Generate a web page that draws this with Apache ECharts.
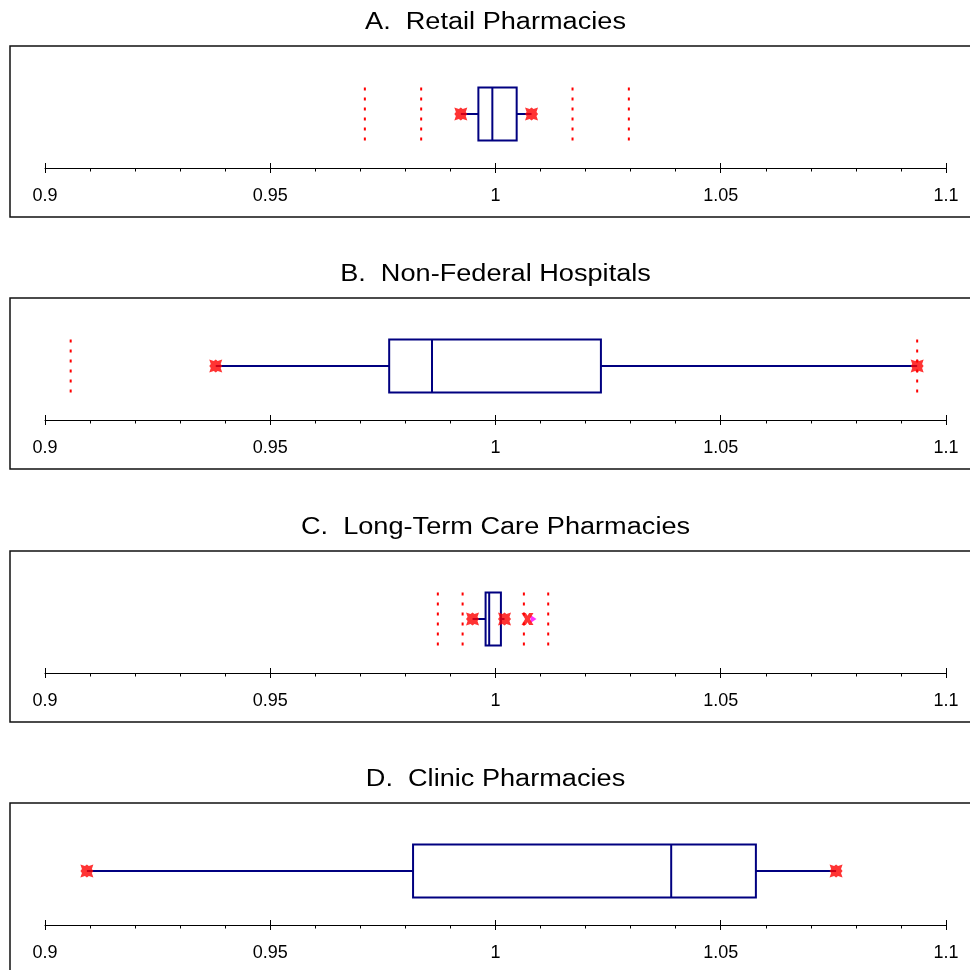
<!DOCTYPE html>
<html>
<head>
<meta charset="utf-8">
<script src="https://cdn.jsdelivr.net/npm/echarts@6/dist/echarts.min.js"></script>
<style>
  html, body { margin: 0; padding: 0; background: #fff; }
  #chart { width: 970px; height: 970px; }
</style>
</head>
<body>
<div id="chart"></div>
<script>
// ---- Data ----
const panelTitles = ['A.  Retail Pharmacies', 'B.  Non-Federal Hospitals', 'C.  Long-Term Care Pharmacies', 'D.  Clinic Pharmacies'];
const whiskerLow  = [0.9923, 0.9379, 0.9949, 0.9093];
const q1Values    = [0.9962, 0.9764, 0.9978, 0.9817];
const medianVals  = [0.9993, 0.9859, 0.9986, 1.0390];
const q3Values    = [1.0047, 1.0234, 1.0012, 1.0578];
const whiskerHigh = [1.0080, 1.0936, 1.0020, 1.0756];
const refLines    = [[0.9710, 0.9835, 1.0171, 1.0296], [0.9057, 1.0936], [0.9872, 0.9927, 1.0063, 1.0117], []];
const outliers    = [[], [], [1.0071], []];
const axisMin = 0.9, axisMax = 1.1, axisStep = 0.05;

// ---- Layout ----
const panelOffsets = [0, 252, 505, 757];
const NAVY = '#000080', RED = '#ff0000';
const FONT = '"Liberation Sans", Arial, sans-serif';
const markerPath = 'path://M0,0 L3.5,1.2 L5,0 L6.5,1.2 L10,0 L8.8,3.5 L10,5 L8.8,6.5 L10,10 L6.5,8.8 L5,10 L3.5,8.8 L0,10 L1.2,6.5 L0,5 L1.2,3.5 Z';
const xPath = 'path://M0,0 L3.6,0 L5,2.2 L6.4,0 L10,0 L7,5 L10,10 L6.4,10 L5,7.8 L3.6,10 L0,10 L3,5 Z';
const BOX_HALF = 26.5;

const grids = [], xAxes = [], yAxes = [], series = [], graphics = [];

function renderBox(params, api) {
  const q1 = api.value(0), med = api.value(1), q3 = api.value(2), lo = api.value(3), hi = api.value(4);
  const pQ1 = api.coord([q1, 0.5]), pMed = api.coord([med, 0.5]), pQ3 = api.coord([q3, 0.5]);
  const pLo = api.coord([lo, 0.5]), pHi = api.coord([hi, 0.5]);
  const yc = pQ1[1];
  const style = { stroke: NAVY, lineWidth: 2, fill: null };
  return {
    type: 'group',
    children: [
      { type: 'line', shape: { x1: pLo[0], y1: yc, x2: pQ1[0], y2: yc }, style: style },
      { type: 'line', shape: { x1: pQ3[0], y1: yc, x2: pHi[0], y2: yc }, style: style },
      { type: 'rect', shape: { x: pQ1[0], y: yc - BOX_HALF, width: pQ3[0] - pQ1[0], height: 2 * BOX_HALF }, style: { stroke: NAVY, lineWidth: 2, fill: '#fff' } },
      { type: 'line', shape: { x1: pMed[0], y1: yc - BOX_HALF, x2: pMed[0], y2: yc + BOX_HALF }, style: style }
    ]
  };
}

function renderRef(params, api) {
  const p = api.coord([api.value(0), 0.5]);
  return {
    type: 'line',
    shape: { x1: p[0], y1: p[1] - BOX_HALF, x2: p[0], y2: p[1] + BOX_HALF },
    style: { stroke: RED, lineWidth: 2, lineDash: [3, 7] }
  };
}

panelTitles.forEach((title, k) => {
  const dy = panelOffsets[k];
  grids.push({ left: 45, width: 901, top: 60 + dy, height: 108 });
  const baseAxis = {
    gridIndex: k, type: 'value', min: axisMin, max: axisMax, interval: axisStep,
    position: 'bottom', splitLine: { show: false }
  };
  xAxes.push(Object.assign({}, baseAxis, {
    axisLine: { show: true, onZero: false, lineStyle: { color: '#000', width: 1 } },
    axisTick: { show: true, length: 5, lineStyle: { color: '#000', width: 1 } },
    minorTick: { show: true, splitNumber: 5, length: 3.5, lineStyle: { color: '#000', width: 1 } },
    axisLabel: { show: true, margin: 19, fontSize: 18, color: '#000', fontFamily: FONT }
  }));
  xAxes.push(Object.assign({}, baseAxis, {
    axisLine: { show: false, onZero: false },
    axisTick: { show: true, inside: true, length: 5, lineStyle: { color: '#000', width: 1 } },
    minorTick: { show: false },
    axisLabel: { show: false }
  }));
  yAxes.push({ gridIndex: k, type: 'value', min: 0, max: 1, show: false });

  // reference dotted lines
  series.push({
    type: 'custom', xAxisIndex: 2 * k, yAxisIndex: k, z: 2,
    renderItem: renderRef,
    data: refLines[k].map(v => [v]),
    silent: true
  });
  // box and whiskers
  series.push({
    type: 'custom', xAxisIndex: 2 * k, yAxisIndex: k, z: 3,
    renderItem: renderBox,
    data: [[q1Values[k], medianVals[k], q3Values[k], whiskerLow[k], whiskerHigh[k]]],
    silent: true
  });
  // whisker end markers
  series.push({
    type: 'scatter', xAxisIndex: 2 * k, yAxisIndex: k, z: 4,
    symbol: markerPath, symbolSize: 13,
    itemStyle: { color: RED },
    data: [[whiskerLow[k], 0.5], [whiskerHigh[k], 0.5]],
    silent: true
  });
  // outliers
  if (outliers[k].length) {
    series.push({
      type: 'scatter', xAxisIndex: 2 * k, yAxisIndex: k, z: 4,
      symbol: 'triangle', symbolSize: [8, 6], symbolRotate: -90, symbolOffset: [6, 0],
      itemStyle: { color: '#ff00ff' },
      data: outliers[k].map(v => [v, 0.5]), silent: true
    });
    series.push({
      type: 'scatter', xAxisIndex: 2 * k, yAxisIndex: k, z: 5,
      symbol: xPath, symbolSize: 12,
      itemStyle: { color: RED },
      data: outliers[k].map(v => [v, 0.5]), silent: true
    });
  }

  // frame and title
  graphics.push({
    type: 'rect', x: 10, y: 46 + dy, z: 0,
    shape: { x: 0, y: 0, width: 1000, height: 171 },
    style: { fill: null, stroke: '#111', lineWidth: 1.5 }
  });
  graphics.push({
    type: 'text', x: 495.5, y: 22.5 + dy, z: 10, scaleX: 1.18,
    style: { text: title, fontSize: 23, fontFamily: FONT, fill: '#000', textAlign: 'center', textVerticalAlign: 'middle' }
  });
});

const chart = echarts.init(document.getElementById('chart'), null, { renderer: 'canvas' });
chart.setOption({
  animation: false,
  backgroundColor: '#fff',
  grid: grids,
  xAxis: xAxes,
  yAxis: yAxes,
  series: series,
  graphic: graphics
});
</script>
</body>
</html>
